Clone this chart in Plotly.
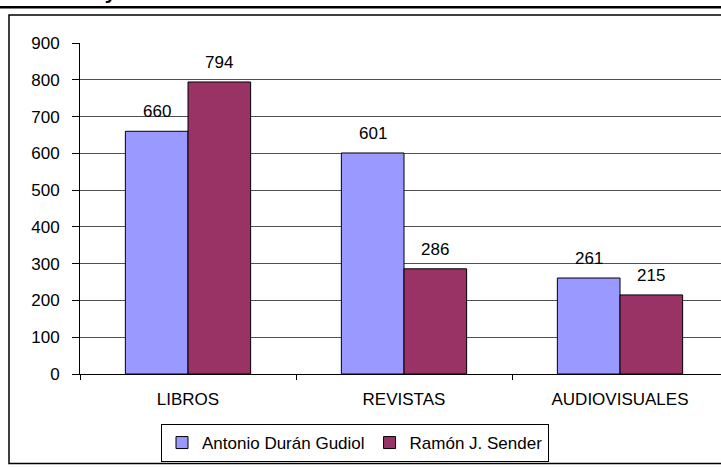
import plotly.graph_objects as go

# Data
categories = ["LIBROS", "REVISTAS", "AUDIOVISUALES"]
series_names = ["Antonio Durán Gudiol", "Ramón J. Sender"]
durán_values = [660, 601, 261]
sender_values = [794, 286, 215]
y_ticks = [0, 100, 200, 300, 400, 500, 600, 700, 800, 900]
title_text = "Fondos documentales y centros"

W, H = 721, 467
ML, MR, MT, MB = 80, 0, 43, 93
PW, PH = W - ML - MR, H - MT - MB
CAT_PX = 216  # width of one category band in pixels


def px_x(p):
    return (p - ML) / PW


def px_y(p):
    return (H - MB - p) / PH


FONT = "Liberation Sans, Arial, sans-serif"
colors = ["#9999FF", "#993366"]
values = [durán_values, sender_values]

fig = go.Figure()
for name, vals, col in zip(series_names, values, colors):
    fig.add_trace(go.Bar(
        x=categories, y=vals, name=name,
        marker=dict(color=col, line=dict(color="black", width=1)),
        hoverinfo="x+y+name",
    ))

# value labels above each bar
bar_px = CAT_PX * (1 - 0.42) / 2
annotations = []
for i, vals in enumerate(values):
    shift = (i - 0.5) * bar_px
    for c, v in zip(categories, vals):
        annotations.append(dict(
            x=c, y=v, xref="x", yref="y", text=str(v), showarrow=False,
            xanchor="center", yanchor="bottom", xshift=shift, yshift=8,
            font=dict(family=FONT, size=17, color="black"),
        ))

# heading, mostly above the top of the page
annotations.append(dict(
    x=px_x(200), y=px_y(5), xref="paper", yref="paper", text="<b>%s</b>" % title_text,
    showarrow=False, xanchor="right", yanchor="bottom",
    font=dict(family=FONT, size=21, color="black"),
))

shapes = [
    # rule above the chart frame
    dict(type="line", xref="paper", yref="paper", x0=px_x(0), x1=px_x(W),
         y0=px_y(7.3), y1=px_y(7.3), line=dict(color="black", width=2.5)),
    # chart frame
    dict(type="rect", xref="paper", yref="paper", x0=px_x(9), x1=px_x(W + 10),
         y0=px_y(463.5), y1=px_y(15), line=dict(color="black", width=1.5),
         fillcolor="rgba(0,0,0,0)"),
]

fig.update_layout(
    width=W, height=H,
    margin=dict(l=ML, r=MR, t=MT, b=MB, pad=0),
    paper_bgcolor="white", plot_bgcolor="white",
    barmode="group", bargap=0.42, bargroupgap=0,
    font=dict(family=FONT, size=17, color="black"),
    showlegend=True,
    legend=dict(
        orientation="h", x=px_x(355), y=px_y(462), xanchor="center", yanchor="bottom",
        bordercolor="black", borderwidth=1, bgcolor="white",
        font=dict(family=FONT, size=17, color="black"),
        itemwidth=30, tracegroupgap=0,
    ),
    xaxis=dict(
        range=[-0.5, -0.5 + PW / CAT_PX], showgrid=False,
        showline=True, linecolor="black", linewidth=1,
        ticks="outside", ticklen=5, tickcolor="black", tickson="boundaries",
        tickfont=dict(family=FONT, size=17, color="black"),
        ticklabelstandoff=10, fixedrange=True,
    ),
    yaxis=dict(
        range=[0, 900], tickvals=y_ticks, showgrid=True, gridcolor="#505050", gridwidth=1,
        showline=True, linecolor="black", linewidth=1, zeroline=False,
        ticks="outside", ticklen=7, tickcolor="black",
        tickfont=dict(family=FONT, size=17, color="black"),
        ticklabelstandoff=9, fixedrange=True,
    ),
    annotations=annotations, shapes=shapes,
)

fig.write_html("out.html")
